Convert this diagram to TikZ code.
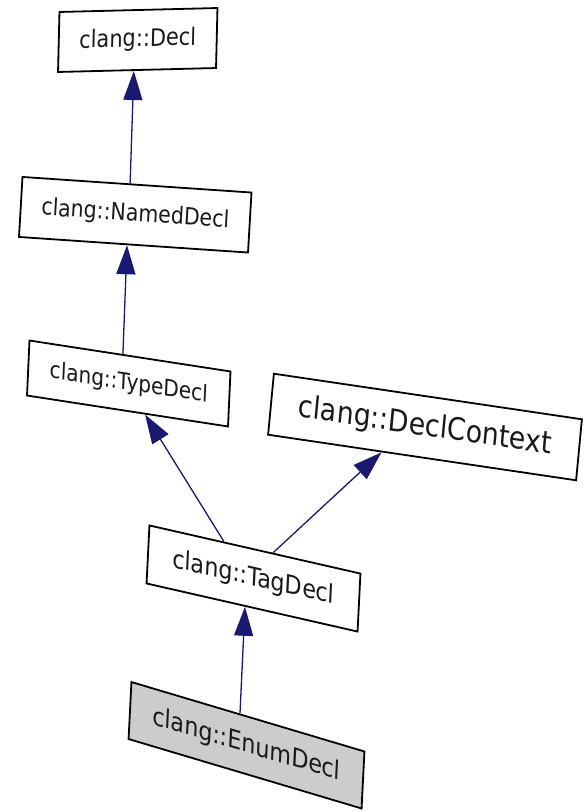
\documentclass[tikz,border=0pt]{standalone}
\usepackage{fontspec}
\newfontfamily\dxfont[FakeStretch=0.87]{DejaVu Sans}
\usetikzlibrary{arrows.meta,calc}
\definecolor{edgeblue}{HTML}{191970}
\begin{document}
\begin{tikzpicture}[x=1pt,y=-1pt,
  cls/.style={draw=black, line width=1.8pt, fill=white, inner sep=0pt, transform shape, text=black!90},
  inh/.style={draw=edgeblue, line width=1.3pt, -{Triangle[length=29pt,width=19pt]}}]
\useasboundingbox (0,0) rectangle (586,811);
\fill[white] (0,0) rectangle (586,811);

\node[cls, minimum width=158pt, minimum height=60pt, cm={1,0.025,0.024,1,(0,0)},
  font=\dxfont\fontsize{24}{28}\selectfont] (decl) at (137.75,40) {clang::Decl};
\node[cls, minimum width=229pt, minimum height=60pt, cm={1,-0.068,0.058,1,(0,0)},
  font=\dxfont\fontsize{23.5}{28}\selectfont] (named) at (135.25,214.75) {clang::NamedDecl};
\node[cls, minimum width=201pt, minimum height=55pt, cm={1,-0.154,0.045,1,(0,0)},
  font=\dxfont\fontsize{23}{27}\selectfont] (type) at (128.75,383.5) {clang::TypeDecl};
\node[cls, minimum width=308pt, minimum height=61pt, cm={1,-0.148,0.095,1,(0,0)},
  font=\dxfont\fontsize{30.5}{34}\selectfont] (ctx) at (425,427) {clang::DeclContext};
\node[cls, minimum width=211pt, minimum height=58pt, cm={1,-0.228,0.05,1,(0,0)},
  font=\dxfont\fontsize{25.5}{30}\selectfont] (tag) at (253.5,578.5) {clang::TagDecl};
\node[cls, fill=black!20, minimum width=233pt, minimum height=57pt, cm={1,-0.298,0.05,1,(0,0)},
  font=\dxfont\fontsize{25.5}{30}\selectfont] (enum) at (246.5,745.25) {clang::EnumDecl};

\draw[inh] ($(enum.north west)!0.466!(enum.north east)$) -- ($(tag.south west)!0.467!(tag.south east)$);
\draw[inh] ($(tag.north west)!0.354!(tag.north east)$) -- ($(type.south west)!0.587!(type.south east)$);
\draw[inh] ($(tag.north west)!0.585!(tag.north east)$) -- ($(ctx.south west)!0.369!(ctx.south east)$);
\draw[inh] ($(type.north west)!0.465!(type.north east)$) -- ($(named.south west)!0.472!(named.south east)$);
\draw[inh] ($(named.north west)!0.47!(named.north east)$) -- ($(decl.south west)!0.48!(decl.south east)$);
\end{tikzpicture}
\end{document}
